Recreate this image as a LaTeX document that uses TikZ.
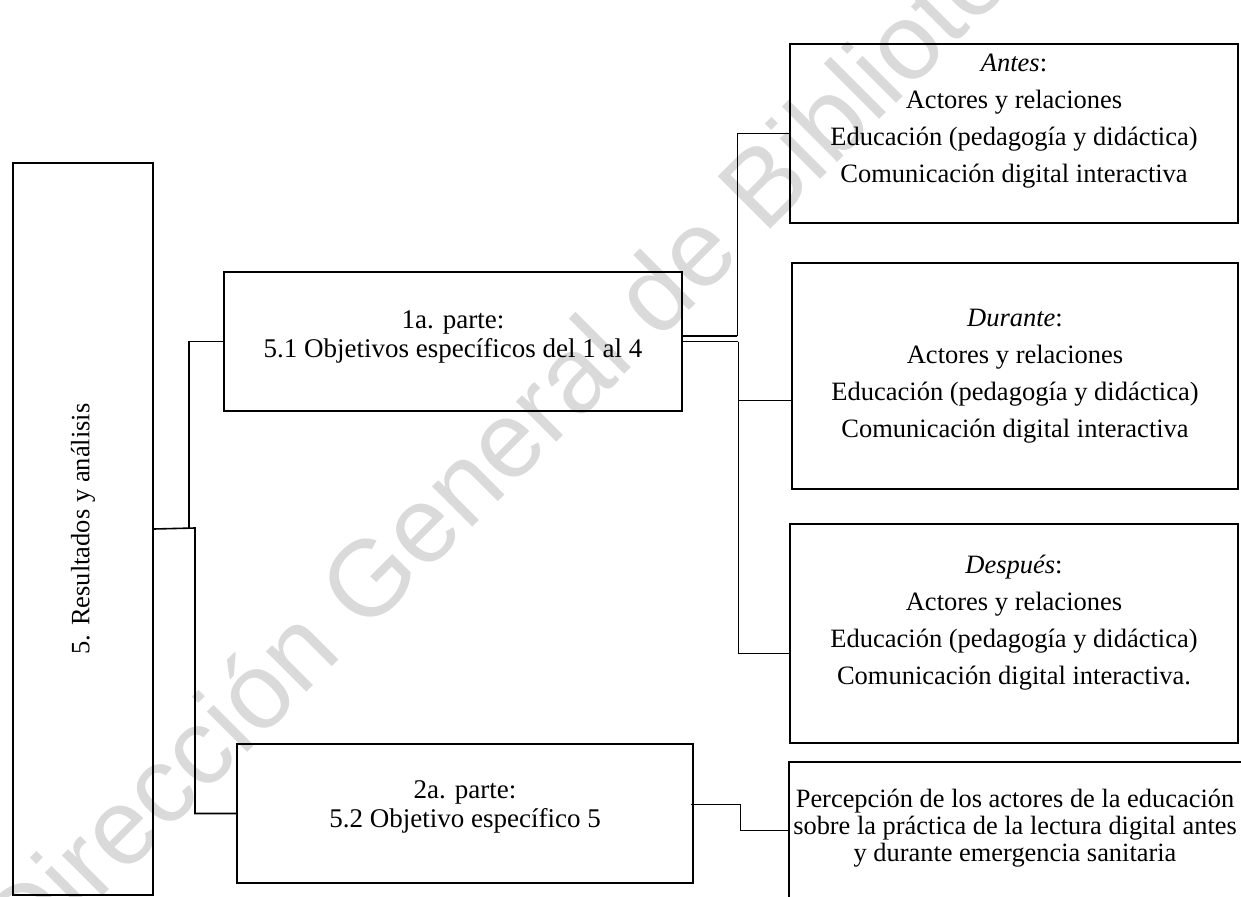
\documentclass[tikz,border=0pt]{standalone}
\usepackage{fontspec}
\setmainfont{Liberation Serif}
\newfontfamily\wmfont{Liberation Sans}
\usetikzlibrary{calc}
\definecolor{markgray}{HTML}{DADADA}
\tikzset{
  framenode/.style={draw=black, line width=1.8pt, inner sep=0pt},
  trunk/.style={black, line width=1.6pt},
  branch/.style={black, line width=1.0pt},
  bodytext/.style={align=center, inner sep=0pt, font=\fontsize{26.5}{37}\selectfont},
  parttext/.style={align=center, inner sep=0pt, font=\fontsize{27}{29}\selectfont},
  perctext/.style={align=center, inner sep=0pt, font=\fontsize{26.4}{27}\selectfont},
  watermark/.style={text=markgray, inner sep=0pt, font=\wmfont\fontsize{108}{108}\selectfont}
}
\begin{document}
\begin{tikzpicture}[x=1pt, y=-1pt]
  \useasboundingbox (0,0) rectangle (1241,896);
  % watermark behind everything
  \node[watermark, rotate=45] (wm) at (552,392) {Dirección General de Bibliotecas};

  \node[framenode, minimum width=140pt, minimum height=732pt] (main) at (83,529) {};
  \node[bodytext, rotate=90] (maintxt) at (main.center) {5. Resultados y análisis};

  \node[framenode, minimum width=458pt, minimum height=139pt] (one) at (453,341.5) {};
  \node[parttext] (onetxt) at (453,337) {1a. parte:\\5.1 Objetivos específicos del 1 al 4};
  \node[framenode, minimum width=456pt, minimum height=139pt] (two) at (465,813.5) {};
  \node[parttext] (twotxt) at (465,807) {2a. parte:\\5.2 Objetivo específico 5};

  \node[framenode, minimum width=448pt, minimum height=179pt] (antes) at (1014,133.5) {};
  \node[bodytext] (antestxt) at (1014,121.5) {\textit{Antes}:\\Actores y relaciones\\Educación (pedagogía y didáctica)\\Comunicación digital interactiva};
  \node[framenode, minimum width=446pt, minimum height=226pt] (durante) at (1015,376) {};
  \node[bodytext] (durtxt) at (1015,376.5) {\textit{Durante}:\\Actores y relaciones\\Educación (pedagogía y didáctica)\\Comunicación digital interactiva};
  \node[framenode, minimum width=448pt, minimum height=219pt] (despues) at (1014,633.5) {};
  \node[bodytext] (desptxt) at (1014,622.5) {\textit{Después}:\\Actores y relaciones\\Educación (pedagogía y didáctica)\\Comunicación digital interactiva.};
  \node[framenode, minimum width=456pt, minimum height=136pt] (perc) at (1017,830) {};
  \node[perctext] (perctxt) at (1015,828) {Percepción de los actores de la educación\\sobre la práctica de la lectura digital antes\\y durante emergencia sanitaria};

  % joints
  \coordinate (j1) at (189,528);
  \coordinate (j2) at (195,528);
  \coordinate (up) at (737,336);
  \coordinate (spine) at (738,341.5);
  \coordinate (bend) at (740,804);

  \draw[trunk] (main.east) -- (j2) |- (two.west);
  \draw[trunk] (j1) |- (one.west);
  \draw[trunk] (one.east |- up) -- (up);
  \draw[branch] (up) |- (antes.west);
  \draw[trunk] (one.east) -- (spine);
  \draw[branch] (spine) |- ($(despues.west)+(0,20)$);
  \draw[branch] ($(durante.west)+(0,24)$) -- (spine |- {$(durante.west)+(0,24)$});
  \draw[branch] ($(two.east)+(-3,-9.5)$) -- (bend) |- (perc.west);
\end{tikzpicture}
\end{document}
